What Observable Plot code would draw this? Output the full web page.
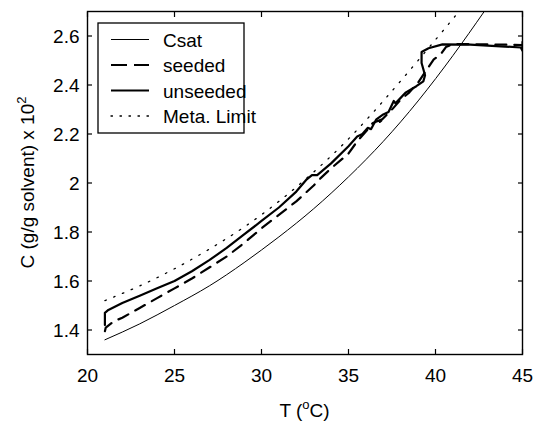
<!DOCTYPE html>
<html><head><meta charset="utf-8">
<script src="https://cdn.jsdelivr.net/npm/d3@7"></script>
<script src="https://cdn.jsdelivr.net/npm/@observablehq/plot@0.6"></script>
<style>
body{margin:0;background:#fff}
#chart{width:533px;height:422px}
</style>
</head><body><div id="chart"></div>
<script>
// ---- data ----
const xTicks = [20, 25, 30, 35, 40, 45];
const yTicks = [1.4, 1.6, 1.8, 2.0, 2.2, 2.4, 2.6];

const csatT = [21, 23, 25, 27, 29, 31, 33, 35, 37, 39, 41, 42.8];
const csatC = [1.36, 1.425, 1.50, 1.58, 1.675, 1.78, 1.895, 2.025, 2.17, 2.335, 2.52, 2.70];

const metaT = [21, 23, 25, 27, 29, 31, 33, 35, 37, 39, 41, 41.35];
const metaC = [1.52, 1.58, 1.65, 1.73, 1.82, 1.925, 2.045, 2.18, 2.335, 2.50, 2.67, 2.70];

const seededT = [21.0, 21.05, 21.5, 22, 23, 24, 25, 26, 27, 28, 29, 30, 31, 32, 33, 33.4, 34, 35, 35.5, 36, 36.4, 37.1, 36.8, 37.5, 38, 38.5, 39, 39.9, 40.3, 40.6, 41, 43, 45];
const seededC = [1.395, 1.41, 1.435, 1.45, 1.49, 1.53, 1.57, 1.61, 1.655, 1.70, 1.755, 1.815, 1.87, 1.925, 1.99, 2.02, 2.06, 2.12, 2.17, 2.21, 2.245, 2.265, 2.25, 2.30, 2.34, 2.37, 2.41, 2.505, 2.525, 2.555, 2.567, 2.566, 2.563];

const unseededT = [21.0, 21.0, 21.2, 22, 23, 24, 25, 26, 27, 28, 29, 30, 31, 32, 32.6, 32.9, 33.2, 34, 35, 35.5, 35.8, 36.1, 36.3, 36.6, 37.0, 37.3, 37.6, 37.7, 38.3, 38.9, 39.3, 39.4, 39.2, 39.2, 39.6, 40.4, 42, 44, 44.9, 45, 45];
const unseededC = [1.42, 1.47, 1.482, 1.51, 1.54, 1.57, 1.60, 1.64, 1.685, 1.735, 1.79, 1.845, 1.90, 1.965, 2.015, 2.032, 2.032, 2.08, 2.15, 2.19, 2.20, 2.225, 2.22, 2.26, 2.28, 2.29, 2.335, 2.325, 2.37, 2.395, 2.415, 2.44, 2.49, 2.535, 2.55, 2.566, 2.565, 2.557, 2.553, 2.54, 2.575];

const legendLabels = ["Csat", "seeded", "unseeded", "Meta. Limit"];

// ---- build tables ----
const toRows = (T, C) => T.map((t, i) => ({T: t, C: C[i]}));
const csat = toRows(csatT, csatC);
const meta = toRows(metaT, metaC);
const seeded = toRows(seededT, seededC);
const unseeded = toRows(unseededT, unseededC);

const styles = [
  {strokeWidth: 1, strokeDasharray: null},
  {strokeWidth: 2.2, strokeDasharray: "11,8"},
  {strokeWidth: 2.2, strokeDasharray: null},
  {strokeWidth: 1.3, strokeDasharray: "1.5,8"}
];

const fmt = d => String(+d.toFixed(1));
const blank = () => "";

const svg = Plot.plot({
  width: 533, height: 422,
  marginLeft: 87, marginRight: 11, marginTop: 11, marginBottom: 68,
  style: {fontFamily: "'Liberation Sans', Arial, sans-serif", fontSize: "19px", color: "black", background: "white"},
  x: {domain: [20, 45], label: null},
  y: {domain: [1.3, 2.7], label: null},
  marks: [
    Plot.line(csat, {x: "T", y: "C", stroke: "black", strokeWidth: styles[0].strokeWidth, curve: "natural", clip: true}),
    Plot.line(meta, {x: "T", y: "C", stroke: "black", strokeWidth: styles[3].strokeWidth, strokeDasharray: styles[3].strokeDasharray, strokeLinecap: "round", curve: "natural", clip: true}),
    Plot.line(seeded, {x: "T", y: "C", stroke: "black", strokeWidth: styles[1].strokeWidth, strokeDasharray: styles[1].strokeDasharray, clip: true}),
    Plot.line(unseeded, {x: "T", y: "C", stroke: "black", strokeWidth: styles[2].strokeWidth, strokeLinejoin: "round", clip: true}),
    // tick labels
    Plot.axisX({anchor: "bottom", ticks: xTicks, tickSize: 0, tickPadding: 14, tickFormat: d => String(d), label: null}),
    Plot.axisY({anchor: "left", ticks: yTicks, tickSize: 0, tickPadding: 8, tickFormat: fmt, label: null, dy: 1}),
    // inward ticks on all four sides
    Plot.axisX({anchor: "bottom", ticks: xTicks, tickSize: 5, dy: -5, tickFormat: blank, label: null, strokeWidth: 1.2}),
    Plot.axisX({anchor: "top", ticks: xTicks, tickSize: 5, dy: 5, tickFormat: blank, label: null, strokeWidth: 1.2}),
    Plot.axisY({anchor: "left", ticks: yTicks, tickSize: 5, dx: 5, tickFormat: blank, label: null, strokeWidth: 1.2}),
    Plot.axisY({anchor: "right", ticks: yTicks, tickSize: 5, dx: -5, tickFormat: blank, label: null, strokeWidth: 1.2}),
    Plot.frame({stroke: "black", strokeWidth: 1.4})
  ]
});

document.getElementById("chart").appendChild(svg);

// ---- axis titles ----
const s = d3.select(svg);
const xl = s.append("text").attr("x", 304.5).attr("y", 416.5).attr("text-anchor", "middle")
  .attr("fill", "black").style("font-size", "19px");
xl.append("tspan").text("T (");
xl.append("tspan").text("o").style("font-size", "13px").attr("dy", -8);
xl.append("tspan").text("C)").attr("dy", 8);

const yl = s.append("text").attr("transform", "translate(34,182.5) rotate(-90)").attr("text-anchor", "middle")
  .attr("fill", "black").style("font-size", "19px");
yl.append("tspan").text("C (g/g solvent) x 10");
yl.append("tspan").text("2").style("font-size", "13px").attr("dy", -8);

// ---- legend ----
const lg = s.append("g").attr("text-anchor", "start");
lg.append("rect").attr("x", 98).attr("y", 23).attr("width", 146).attr("height", 110)
  .attr("fill", "white").attr("stroke", "black").attr("stroke-width", 1.3);
const rowY = [39.5, 65, 90.5, 116];
legendLabels.forEach((name, i) => {
  lg.append("line").attr("x1", 111).attr("x2", 149).attr("y1", rowY[i]).attr("y2", rowY[i])
    .attr("stroke", "black").attr("stroke-width", styles[i].strokeWidth)
    .attr("stroke-dasharray", i === 1 ? "16,7" : i === 3 ? "1.5,7.5" : null)
    .attr("stroke-linecap", i === 3 ? "round" : "butt");
  lg.append("text").attr("x", 163).attr("y", rowY[i] + 7).attr("fill", "black")
    .attr("text-anchor", "start").style("font-size", "19px").text(name);
});
</script>
</body></html>
